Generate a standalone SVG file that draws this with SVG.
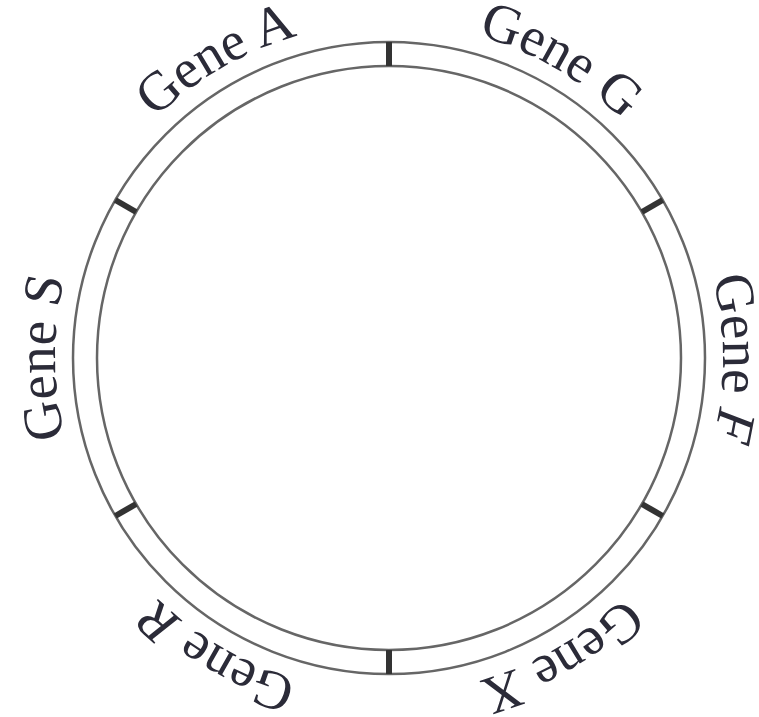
<svg xmlns="http://www.w3.org/2000/svg" xmlns:xlink="http://www.w3.org/1999/xlink" width="759" height="717" viewBox="0 0 759 717">
<style>
.ring{fill:none;stroke:#666;stroke-width:2.5}
.tick{stroke:#333;stroke-width:6}
.lbl{font-family:"Liberation Serif","Times New Roman",serif;font-size:55px;fill:#2b2b38}
.it{font-style:italic}
</style>
<defs>
<path id="lp" d="M 100.62 524.5 A 333 333 0 1 1 677.38 191.5 A 333 333 0 1 1 100.62 524.5"/>
</defs>
<rect width="759" height="717" fill="#fff"/>
<g id="plasmid">
<circle class="ring" cx="389" cy="358" r="316"/>
<circle class="ring" cx="389" cy="358" r="292"/>
</g>
<g id="connectors">
<line class="tick" x1="389" y1="42" x2="389" y2="66"/>
<line class="tick" x1="389" y1="674" x2="389" y2="650"/>
<line class="tick" x1="662.7" y1="200" x2="641.9" y2="212"/>
<line class="tick" x1="662.7" y1="516" x2="641.9" y2="504"/>
<line class="tick" x1="115.3" y1="200" x2="136.1" y2="212"/>
<line class="tick" x1="115.3" y1="516" x2="136.1" y2="504"/>
</g>
<g id="gene-s"><text class="lbl" text-anchor="middle"><textPath xlink:href="#lp" startOffset="8.33%">Gene S</textPath></text></g>
<g id="gene-a"><text class="lbl" text-anchor="middle"><textPath xlink:href="#lp" startOffset="25%">Gene A</textPath></text></g>
<g id="gene-g"><text class="lbl" text-anchor="middle"><textPath xlink:href="#lp" startOffset="41.67%">Gene G</textPath></text></g>
<g id="gene-f"><text class="lbl" text-anchor="middle"><textPath xlink:href="#lp" startOffset="58.33%">Gene <tspan class="it">F</tspan></textPath></text></g>
<g id="gene-x"><text class="lbl" text-anchor="middle"><textPath xlink:href="#lp" startOffset="75%">Gene X</textPath></text></g>
<g id="gene-r"><text class="lbl" text-anchor="middle"><textPath xlink:href="#lp" startOffset="91.67%">Gene <tspan class="it">R</tspan></textPath></text></g>
</svg>
